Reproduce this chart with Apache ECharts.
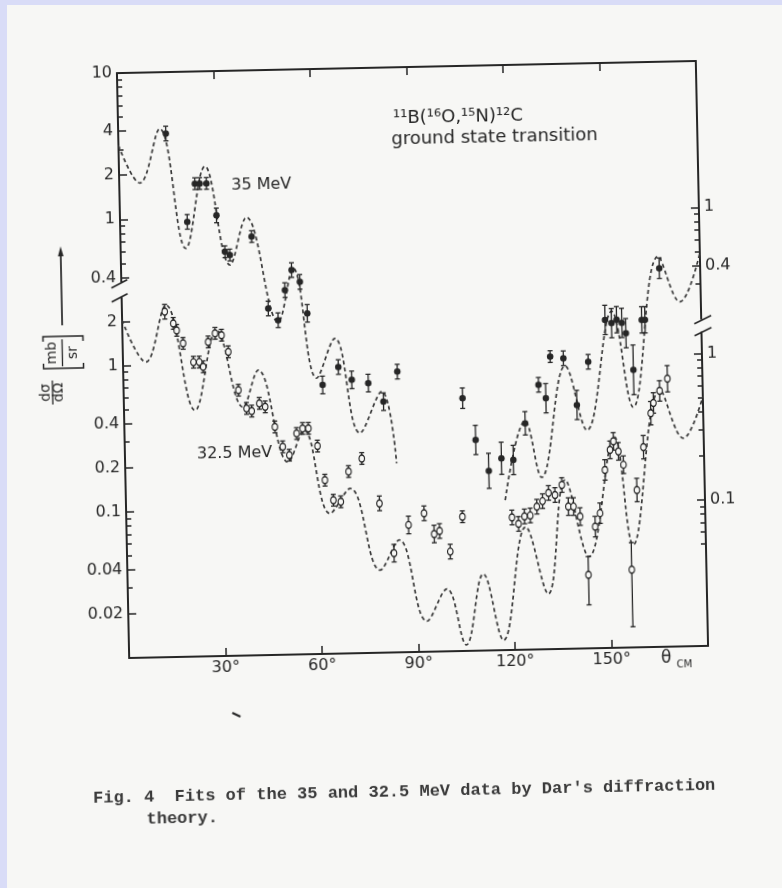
<!DOCTYPE html>
<html><head><meta charset="utf-8">
<script src="https://cdn.jsdelivr.net/npm/echarts@6/dist/echarts.min.js"></script>
<style>
html,body{margin:0;padding:0;background:#d9dcf7;width:782px;height:888px;overflow:hidden;}
#paper{position:absolute;left:7px;top:5px;width:775px;height:883px;background:#f7f7f5;}
#chart{position:absolute;left:0;top:0;width:782px;height:888px;transform:rotate(-1.2deg);transform-origin:412px 360px;}
</style></head><body>
<div id="paper"></div><div id="chart"></div>
<script>
// ---------------- data ----------------
// 35 MeV measured points (values in units of the upper left scale)
const deg35 = [14.8,20.9,23.5,25.0,27.1,30.0,32.4,33.9,40.8,45.5,48.5,50.8,53.0,55.5,57.6,61.9,66.9,71.0,76.1,80.7,85.2,105.3,109.1,113.0,117.0,120.7,124.6,129.0,131.2,132.8,136.9,140.8,144.6,150.1,152.1,153.7,155.3,156.5,158.6,161.5,162.5,167.3];
const val35 = [3.8,0.94,1.71,1.71,1.71,1.03,0.58,0.55,0.73,0.234,0.194,0.311,0.425,0.352,0.214,0.069,0.091,0.074,0.070,0.052,0.083,0.0535,0.0276,0.0169,0.0205,0.0199,0.0353,0.0644,0.052,0.100,0.097,0.0463,0.091,0.175,0.166,0.175,0.166,0.141,0.079,0.173,0.173,0.388];
const err35 = [0.05,0.05,0.04,0.04,0.04,0.05,0.04,0.04,0.04,0.05,0.05,0.05,0.05,0.05,0.06,0.06,0.05,0.06,0.06,0.06,0.05,0.07,0.10,0.12,0.11,0.10,0.08,0.05,0.10,0.04,0.05,0.10,0.05,0.10,0.10,0.09,0.10,0.10,0.17,0.09,0.09,0.07]; // half-width, decades

// 32.5 MeV measured points (values in units of the lower left scale)
const deg32 = [13.3,15.9,16.9,18.8,21.9,23.7,24.9,26.6,28.8,30.8,32.8,35.7,38.1,39.7,42.1,43.9,46.8,49.1,51.1,53.5,55.4,57.2,59.9,62.0,64.5,66.8,69.4,73.6,78.8,83.0,87.7,92.6,95.6,97.3,100.5,104.5,119.9,121.9,123.8,125.6,127.7,129.5,131.4,133.4,135.6,137.5,139.1,141.1,143.3,145.7,147.3,149.1,150.8,151.9,153.4,154.9,156.8,158.9,161.2,163.7,164.6,166.6,169.1];
const val32 = [2.3,1.91,1.71,1.39,1.03,1.03,0.955,1.41,1.61,1.56,1.2,0.653,0.489,0.468,0.527,0.498,0.362,0.264,0.231,0.324,0.35,0.35,0.264,0.154,0.112,0.109,0.175,0.214,0.105,0.0477,0.074,0.0885,0.0637,0.0666,0.048,0.0828,0.0805,0.0726,0.0815,0.0826,0.0946,0.103,0.117,0.113,0.132,0.0938,0.0937,0.0798,0.0318,0.0678,0.0836,0.165,0.226,0.258,0.22,0.178,0.034,0.119,0.233,0.397,0.466,0.562,0.679];
const err32up = [0.05,0.04,0.04,0.04,0.04,0.04,0.04,0.04,0.04,0.04,0.04,0.04,0.04,0.04,0.04,0.04,0.04,0.04,0.04,0.04,0.04,0.04,0.04,0.04,0.04,0.04,0.04,0.04,0.05,0.06,0.06,0.05,0.06,0.05,0.05,0.04,0.05,0.05,0.05,0.05,0.05,0.05,0.05,0.05,0.05,0.06,0.06,0.06,0.125,0.07,0.07,0.07,0.06,0.06,0.06,0.06,0.185,0.08,0.08,0.08,0.07,0.07,0.09];
const err32dn = [0.05,0.04,0.04,0.04,0.04,0.04,0.04,0.04,0.04,0.04,0.04,0.04,0.04,0.04,0.04,0.04,0.04,0.04,0.04,0.04,0.04,0.04,0.04,0.04,0.04,0.04,0.04,0.04,0.05,0.06,0.06,0.05,0.06,0.05,0.05,0.04,0.05,0.05,0.05,0.05,0.05,0.05,0.05,0.05,0.05,0.06,0.06,0.06,0.205,0.07,0.07,0.07,0.06,0.06,0.06,0.06,0.39,0.08,0.08,0.08,0.07,0.07,0.09];

// Dar diffraction-theory fits (dashed)
const fitDeg35a = [0,6.4,12.9,20.3,26.7,33.9,39.3,48.5,53.5,60.1,66.0,73.2,80.2,84.4];
const fitVal35a = [3.2,1.76,4.1,0.62,2.24,0.47,0.99,0.189,0.437,0.077,0.143,0.032,0.061,0.0196];
const fitDeg35b = [117.9,124.6,129.4,137.4,143.8,152.2,158.3,167.0,173.5,180];
const fitVal35b = [0.0106,0.0366,0.015,0.086,0.031,0.20,0.044,0.467,0.227,0.486];
const fitDeg32 = [0,7.1,13.7,22.1,29.3,37.0,42.0,50.7,55.8,63.4,69.8,78.6,84.7,92.8,99.2,104.9,110.6,116.5,124.1,130.7,136.6,143.6,152.2,157.4,166.7,173.7,180];
const fitVal32 = [2.04,1.05,2.55,0.483,1.69,0.50,0.89,0.207,0.341,0.091,0.134,0.0367,0.0586,0.0162,0.0267,0.011,0.0334,0.0117,0.069,0.0239,0.143,0.0423,0.277,0.0503,0.571,0.265,0.508];

// tick labels
const xTicks = [30,60,90,120,150];
const leftUpperLabels = [10,4,2,1,0.4];
const leftLowerLabels = [2,1,0.4,0.2,0.1,0.04,0.02];
const leftUpperMinor = [9,8,7,6,5,3,0.9,0.8,0.7,0.6,0.5];
const leftLowerMinor = [0.9,0.8,0.7,0.6,0.5,0.3,0.09,0.08,0.07,0.06,0.05,0.03];
const rightUpperLabels = [1,0.4];
const rightLowerLabels = [1,0.1];
const rightUpperMinor = [0.9,0.8,0.7,0.6,0.5,0.3];
const rightLowerMinor = [0.9,0.8,0.7,0.6,0.5,0.4,0.3,0.2,0.09,0.08,0.07,0.06,0.05];

// the upper (35 MeV) scale sits one decade above the lower (32.5 MeV) scale
const SHIFT = 10;

// ---------------- styles ----------------
const INK = '#262626', CURVE = '#383838', PAPER = '#f7f7f5';
const FONT = '"DejaVu Sans", "Liberation Sans", sans-serif';
const MONO = '"Liberation Mono", "DejaVu Sans Mono", monospace';
const lg = Math.log10;

function pairs(upper, lower){
  return upper.map(v => [lg(v*SHIFT), String(v)]).concat(lower.map(v => [lg(v), String(v)]));
}
function fmt(list){
  return function(v){ for (const p of list) if (Math.abs(p[0]-v) < 1e-6) return p[1]; return ''; };
}
const leftMajor = pairs(leftUpperLabels, leftLowerLabels);
const rightMajor = pairs(rightUpperLabels, rightLowerLabels);
const leftMinorPos = leftUpperMinor.map(v => lg(v*SHIFT)).concat(leftLowerMinor.map(v => lg(v)));
const rightMinorPos = rightUpperMinor.map(v => lg(v*SHIFT)).concat(rightLowerMinor.map(v => lg(v)));

function tickAxis(pos, ticks, len, labelPairs){
  return {
    type:'value', min:-2, max:2, position:pos,
    axisLine:{show:false, onZero:false},
    axisTick:{show:true, inside:true, length:len, customValues:ticks, lineStyle:{color:INK, width:1.5}},
    axisLabel: labelPairs ? {show:true, customValues:labelPairs.map(p=>p[0]), formatter:fmt(labelPairs),
                  color:INK, fontSize:16, fontFamily:FONT, margin:5}
               : {show:false},
    splitLine:{show:false}
  };
}

const chart = echarts.init(document.getElementById('chart'), null, {renderer:'canvas'});

function renderErr(params, api){
  const x = api.value(0), lo = api.value(1), hi = api.value(2);
  const a = api.coord([x, lo]), b = api.coord([x, hi]);
  const s = {stroke:INK, lineWidth:1.3};
  return {type:'group', children:[
    {type:'line', shape:{x1:a[0], y1:a[1], x2:b[0], y2:b[1]}, style:s},
    {type:'line', shape:{x1:a[0]-2.5, y1:a[1], x2:a[0]+2.5, y2:a[1]}, style:s},
    {type:'line', shape:{x1:b[0]-2.5, y1:b[1], x2:b[0]+2.5, y2:b[1]}, style:s}
  ]};
}

const errData35 = deg35.map((d,i) => [d, val35[i]*SHIFT/Math.pow(10,err35[i]), val35[i]*SHIFT*Math.pow(10,err35[i])]);
const errData32 = deg32.map((d,i) => [d, val32[i]/Math.pow(10,err32dn[i]), val32[i]*Math.pow(10,err32up[i])]);
const pts35 = deg35.map((d,i) => [d, val35[i]*SHIFT]);
const pts32 = deg32.map((d,i) => [d, val32[i]]);
const fit35a = fitDeg35a.map((d,i) => [d, fitVal35a[i]*SHIFT]);
const fit35b = fitDeg35b.map((d,i) => [d, fitVal35b[i]*SHIFT]);
const fit32 = fitDeg32.map((d,i) => [d, fitVal32[i]]);

const fitStyle = {type:'line', showSymbol:false, symbol:'none', smooth:0.4, silent:true,
  lineStyle:{type:[4,3], width:1.7, color:CURVE}, xAxisIndex:0, yAxisIndex:0, z:2};

const option = {
  animation:false,
  backgroundColor:'transparent',
  grid:{left:123, top:67, width:579, height:585, containLabel:false, outerBoundsMode:'none'},
  xAxis:[
    {type:'value', min:0, max:180, position:'bottom',
     axisLine:{show:true, onZero:false, lineStyle:{color:INK, width:2}},
     axisTick:{show:true, inside:true, length:8, customValues:xTicks, lineStyle:{color:INK, width:1.5}},
     axisLabel:{show:true, customValues:xTicks, formatter:v => v + '°', color:INK, fontSize:16, fontFamily:FONT, margin:4},
     splitLine:{show:false}},
    {type:'value', min:0, max:180, position:'top',
     axisLine:{show:true, onZero:false, lineStyle:{color:INK, width:2}},
     axisTick:{show:true, inside:true, length:8, customValues:xTicks, lineStyle:{color:INK, width:1.5}},
     axisLabel:{show:false}, splitLine:{show:false}}
  ],
  yAxis:[
    {type:'log', logBase:10, min:0.01, max:100, position:'left',
     axisLine:{show:true, onZero:false, lineStyle:{color:INK, width:2}},
     axisTick:{show:false}, axisLabel:{show:false}, splitLine:{show:false}, minorTick:{show:false}},
    tickAxis('left', leftMajor.map(p=>p[0]), 8, leftMajor),
    tickAxis('left', leftMinorPos, 5, null),
    Object.assign(tickAxis('right', rightMajor.map(p=>p[0]), 8, rightMajor),
      {axisLine:{show:true, onZero:false, lineStyle:{color:INK, width:2}}}),
    tickAxis('right', rightMinorPos, 5, null)
  ],
  series:[
    Object.assign({name:'fit35a', data:fit35a}, fitStyle),
    Object.assign({name:'fit35b', data:fit35b}, fitStyle),
    Object.assign({name:'fit32', data:fit32}, fitStyle),
    {type:'custom', name:'err35', renderItem:renderErr, data:errData35, xAxisIndex:0, yAxisIndex:0,
     encode:{x:0, y:[1,2]}, silent:true, z:3},
    {type:'custom', name:'err32', renderItem:renderErr, data:errData32, xAxisIndex:0, yAxisIndex:0,
     encode:{x:0, y:[1,2]}, silent:true, z:3},
    {type:'scatter', name:'35 MeV', data:pts35, symbol:'circle', symbolSize:6.5, xAxisIndex:0, yAxisIndex:0,
     itemStyle:{color:INK, opacity:1}, z:4, silent:true},
    {type:'scatter', name:'32.5 MeV', data:pts32, symbol:'circle', symbolSize:[5.5,7], xAxisIndex:0, yAxisIndex:0,
     itemStyle:{color:PAPER, borderColor:INK, borderWidth:1.3, opacity:1}, z:4, silent:true}
  ]
};
chart.setOption(option);

// ---------------- decorations (axis breaks, labels, caption) ----------------
const xl = chart.convertToPixel({xAxisIndex:0}, 0);
const xr = chart.convertToPixel({xAxisIndex:0}, 180);
const ybl = chart.convertToPixel({yAxisIndex:0}, 3.3);
const ybr = chart.convertToPixel({yAxisIndex:0}, 1.55);
const ln = (x1,y1,x2,y2,w) => ({type:'line', shape:{x1,y1,x2,y2}, style:{stroke:INK, lineWidth:w||1.6}, z:100, silent:true});
const tx = (x,y,text,font,extra,rot) => ({type:'text', x, y, rotation:rot||0, z:100, silent:true,
  style:Object.assign({text, font, fill:INK, verticalAlign:'middle'}, extra||{})});
const UP = Math.PI/2;

const graphics = [
  // left axis break
  {type:'rect', shape:{x:xl-3, y:ybl-7, width:6, height:14}, style:{fill:PAPER}, z:99, silent:true},
  ln(xl-10, ybl-2, xl+6, ybl-10), ln(xl-10, ybl+12, xl+6, ybl+4),
  // right axis break
  {type:'rect', shape:{x:xr-3, y:ybr-6, width:6, height:12}, style:{fill:PAPER}, z:99, silent:true},
  ln(xr-7, ybr-2, xr+10, ybr-10), ln(xr-7, ybr+10, xr+10, ybr+2),
  // y-axis title  dσ/dΩ [mb/sr]  (rotated, reading upwards) with arrow
  tx(45.5, 385, 'dσ', '14px ' + FONT, {align:'center'}, UP),
  tx(58.5, 385, 'dΩ', '14px ' + FONT, {align:'center'}, UP),
  ln(52, 373, 52, 397, 1.3),
  tx(52.5, 345.5, 'mb', '14px ' + FONT, {align:'center'}, UP),
  tx(73, 345.5, 'sr', '14px ' + FONT, {align:'center'}, UP),
  ln(62.5, 332, 62.5, 359, 1.3),
  {type:'polyline', shape:{points:[[43.5,356],[43.5,361],[83.5,361],[83.5,356]]}, style:{stroke:INK, lineWidth:1.5, fill:null}, z:100, silent:true},
  {type:'polyline', shape:{points:[[43.5,334],[43.5,329],[83.5,329],[83.5,334]]}, style:{stroke:INK, lineWidth:1.5, fill:null}, z:100, silent:true},
  ln(63, 247, 63, 318, 1.7),
  {type:'polygon', shape:{points:[[63,239],[60.2,249],[65.8,249]]}, style:{fill:INK}, z:100, silent:true},
  // annotations
  tx(398, 118, '¹¹B(¹⁶O,¹⁵N)¹²C', '18px ' + FONT),
  tx(396, 139, 'ground state transition', '18px ' + FONT),
  tx(235, 182, '35 MeV', '16px ' + FONT),
  tx(195, 450, '32.5 MeV', '16px ' + FONT),
  tx(660, 664, 'θ', '17px ' + FONT, {align:'center'}),
  tx(678, 670, 'CM', '10px ' + FONT, {align:'center'}),
  // caption
  tx(84, 792, "Fig. 4  Fits of the 35 and 32.5 MeV data by Dar's diffraction", 'bold 17px ' + MONO, {fill:'#3a3a3a'}),
  tx(137, 814, 'theory.', 'bold 17px ' + MONO, {fill:'#3a3a3a'}),
  // stray scan mark
  ln(225, 709, 233, 713, 2)
];
chart.setOption({graphic:{elements:graphics}});
</script></body></html>
